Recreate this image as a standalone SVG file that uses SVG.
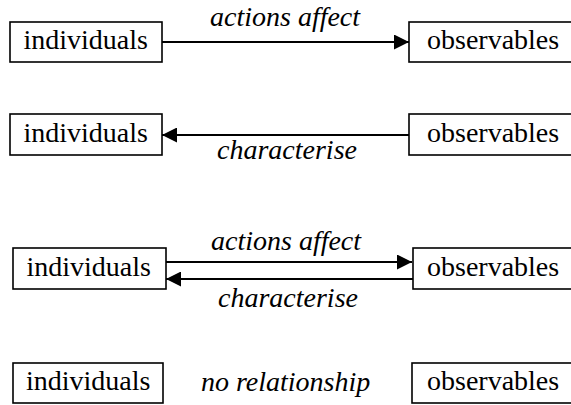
<svg xmlns="http://www.w3.org/2000/svg" width="571" height="405" viewBox="0 0 571 405">
  <style>
    .box { fill: #ffffff; stroke: #000000; stroke-width: 1.6; }
    .link { stroke: #000000; stroke-width: 2; fill: none; }
  </style>
  <defs>
    <marker id="arrow" viewBox="0 0 15 15" refX="15" refY="7.5" markerWidth="15" markerHeight="15" markerUnits="userSpaceOnUse" orient="auto">
      <path d="M0,0 L15,7.5 L0,15 Z" fill="#000000"/>
    </marker>
  </defs>
  <rect width="571" height="405" fill="#ffffff"/>

  <!-- connectors and their labels -->
  <g id="connectors">
    <!-- row 1: individuals -> observables -->
    <line class="link" x1="162" y1="42" x2="409" y2="42" marker-end="url(#arrow)"/>
    <text font-family="Liberation Serif" font-size="28" font-style="italic" x="210" y="26">actions affect</text>
    <!-- row 2: observables -> individuals -->
    <line class="link" x1="409" y1="135" x2="162" y2="135" marker-end="url(#arrow)"/>
    <text font-family="Liberation Serif" font-size="28" font-style="italic" x="217" y="159">characterise</text>
    <!-- row 3: both directions -->
    <line class="link" x1="166" y1="262" x2="412" y2="262" marker-end="url(#arrow)"/>
    <text font-family="Liberation Serif" font-size="28" font-style="italic" x="211" y="250">actions affect</text>
    <line class="link" x1="413" y1="279" x2="166" y2="279" marker-end="url(#arrow)"/>
    <text font-family="Liberation Serif" font-size="28" font-style="italic" x="218" y="307">characterise</text>
    <!-- row 4: no link -->
    <text font-family="Liberation Serif" font-size="28" font-style="italic" x="201" y="391">no relationship</text>
  </g>

  <g id="individuals-1">
    <rect class="box" x="10" y="22" width="152" height="40"/>
    <text font-family="Liberation Serif" font-size="28" x="23.5" y="49">individuals</text>
  </g>
  <g id="observables-1">
    <rect class="box" x="409" y="22" width="168" height="40"/>
    <text font-family="Liberation Serif" font-size="28" x="427" y="49">observables</text>
  </g>

  <g id="individuals-2">
    <rect class="box" x="10" y="114" width="152" height="41"/>
    <text font-family="Liberation Serif" font-size="28" x="23.5" y="142">individuals</text>
  </g>
  <g id="observables-2">
    <rect class="box" x="409" y="114" width="168" height="41"/>
    <text font-family="Liberation Serif" font-size="28" x="427" y="142">observables</text>
  </g>

  <g id="individuals-3">
    <rect class="box" x="13" y="248" width="153" height="41"/>
    <text font-family="Liberation Serif" font-size="28" x="26.5" y="276">individuals</text>
  </g>
  <g id="observables-3">
    <rect class="box" x="413" y="248" width="164" height="41"/>
    <text font-family="Liberation Serif" font-size="28" x="427" y="276">observables</text>
  </g>

  <g id="individuals-4">
    <rect class="box" x="13" y="363" width="150" height="40"/>
    <text font-family="Liberation Serif" font-size="28" x="26" y="390">individuals</text>
  </g>
  <g id="observables-4">
    <rect class="box" x="412" y="363" width="165" height="40"/>
    <text font-family="Liberation Serif" font-size="28" x="427" y="390">observables</text>
  </g>
</svg>
